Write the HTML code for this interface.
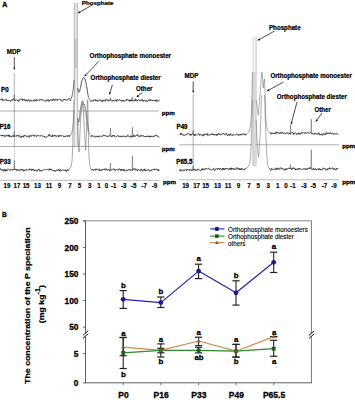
<!DOCTYPE html>
<html><head><meta charset="utf-8"><style>
html,body{margin:0;padding:0;background:#fff;}
svg{display:block;}
svg text{font-family:"Liberation Sans",sans-serif;}
</style></head><body>
<svg width="355" height="400" viewBox="0 0 355 400">
<defs><clipPath id="cl"><rect x="0" y="0" width="170" height="200"/></clipPath></defs>
<rect width="355" height="400" fill="#fff"/>
<text x="2.3" y="7.0" font-size="7.0" font-weight="bold" text-anchor="start" fill="#000" stroke="#000" stroke-width="0.3" >A</text>
<line x1="0" y1="111.0" x2="158.8" y2="111.0" stroke="#9a9a9a" stroke-width="0.8" />
<line x1="0" y1="146.5" x2="159.5" y2="146.5" stroke="#9a9a9a" stroke-width="0.8" />
<line x1="0" y1="180.3" x2="159.7" y2="180.3" stroke="#aaa" stroke-width="0.8" />
<line x1="179.3" y1="144.8" x2="338.8" y2="144.8" stroke="#9a9a9a" stroke-width="0.8" />
<line x1="179.3" y1="179.8" x2="339" y2="179.8" stroke="#aaa" stroke-width="0.8" />
<text transform="translate(7.0,187.9) scale(1,1.08)" font-size="6.2" font-weight="bold" text-anchor="middle" fill="#000" stroke="#000" stroke-width="0.15" >19</text>
<text transform="translate(185.6,187.9) scale(1,1.08)" font-size="6.2" font-weight="bold" text-anchor="middle" fill="#000" stroke="#000" stroke-width="0.15" >19</text>
<text transform="translate(17.0,187.9) scale(1,1.08)" font-size="6.2" font-weight="bold" text-anchor="middle" fill="#000" stroke="#000" stroke-width="0.15" >17</text>
<text transform="translate(196.6,187.9) scale(1,1.08)" font-size="6.2" font-weight="bold" text-anchor="middle" fill="#000" stroke="#000" stroke-width="0.15" >17</text>
<text transform="translate(26.1,187.9) scale(1,1.08)" font-size="6.2" font-weight="bold" text-anchor="middle" fill="#000" stroke="#000" stroke-width="0.15" >15</text>
<text transform="translate(205.6,187.9) scale(1,1.08)" font-size="6.2" font-weight="bold" text-anchor="middle" fill="#000" stroke="#000" stroke-width="0.15" >15</text>
<text transform="translate(37.5,187.9) scale(1,1.08)" font-size="6.2" font-weight="bold" text-anchor="middle" fill="#000" stroke="#000" stroke-width="0.15" >13</text>
<text transform="translate(217.4,187.9) scale(1,1.08)" font-size="6.2" font-weight="bold" text-anchor="middle" fill="#000" stroke="#000" stroke-width="0.15" >13</text>
<text transform="translate(48.9,187.9) scale(1,1.08)" font-size="6.2" font-weight="bold" text-anchor="middle" fill="#000" stroke="#000" stroke-width="0.15" >11</text>
<text transform="translate(228.1,187.9) scale(1,1.08)" font-size="6.2" font-weight="bold" text-anchor="middle" fill="#000" stroke="#000" stroke-width="0.15" >11</text>
<text transform="translate(59.6,187.9) scale(1,1.08)" font-size="6.2" font-weight="bold" text-anchor="middle" fill="#000" stroke="#000" stroke-width="0.15" >9</text>
<text transform="translate(238.6,187.9) scale(1,1.08)" font-size="6.2" font-weight="bold" text-anchor="middle" fill="#000" stroke="#000" stroke-width="0.15" >9</text>
<text transform="translate(69.9,187.9) scale(1,1.08)" font-size="6.2" font-weight="bold" text-anchor="middle" fill="#000" stroke="#000" stroke-width="0.15" >7</text>
<text transform="translate(249.0,187.9) scale(1,1.08)" font-size="6.2" font-weight="bold" text-anchor="middle" fill="#000" stroke="#000" stroke-width="0.15" >7</text>
<text transform="translate(79.4,187.9) scale(1,1.08)" font-size="6.2" font-weight="bold" text-anchor="middle" fill="#000" stroke="#000" stroke-width="0.15" >5</text>
<text transform="translate(258.2,187.9) scale(1,1.08)" font-size="6.2" font-weight="bold" text-anchor="middle" fill="#000" stroke="#000" stroke-width="0.15" >5</text>
<text transform="translate(89.7,187.9) scale(1,1.08)" font-size="6.2" font-weight="bold" text-anchor="middle" fill="#000" stroke="#000" stroke-width="0.15" >3</text>
<text transform="translate(268.3,187.9) scale(1,1.08)" font-size="6.2" font-weight="bold" text-anchor="middle" fill="#000" stroke="#000" stroke-width="0.15" >3</text>
<text transform="translate(99.0,187.9) scale(1,1.08)" font-size="6.2" font-weight="bold" text-anchor="middle" fill="#000" stroke="#000" stroke-width="0.15" >1</text>
<text transform="translate(277.8,187.9) scale(1,1.08)" font-size="6.2" font-weight="bold" text-anchor="middle" fill="#000" stroke="#000" stroke-width="0.15" >1</text>
<text transform="translate(106.6,187.9) scale(1,1.08)" font-size="6.2" font-weight="bold" text-anchor="middle" fill="#000" stroke="#000" stroke-width="0.15" >0</text>
<text transform="translate(285.9,187.9) scale(1,1.08)" font-size="6.2" font-weight="bold" text-anchor="middle" fill="#000" stroke="#000" stroke-width="0.15" >0</text>
<text transform="translate(113.8,187.9) scale(1,1.08)" font-size="6.2" font-weight="bold" text-anchor="middle" fill="#000" stroke="#000" stroke-width="0.15" >-1</text>
<text transform="translate(293.0,187.9) scale(1,1.08)" font-size="6.2" font-weight="bold" text-anchor="middle" fill="#000" stroke="#000" stroke-width="0.15" >-1</text>
<text transform="translate(123.7,187.9) scale(1,1.08)" font-size="6.2" font-weight="bold" text-anchor="middle" fill="#000" stroke="#000" stroke-width="0.15" >-3</text>
<text transform="translate(304.0,187.9) scale(1,1.08)" font-size="6.2" font-weight="bold" text-anchor="middle" fill="#000" stroke="#000" stroke-width="0.15" >-3</text>
<text transform="translate(133.8,187.9) scale(1,1.08)" font-size="6.2" font-weight="bold" text-anchor="middle" fill="#000" stroke="#000" stroke-width="0.15" >-5</text>
<text transform="translate(313.3,187.9) scale(1,1.08)" font-size="6.2" font-weight="bold" text-anchor="middle" fill="#000" stroke="#000" stroke-width="0.15" >-5</text>
<text transform="translate(144.3,187.9) scale(1,1.08)" font-size="6.2" font-weight="bold" text-anchor="middle" fill="#000" stroke="#000" stroke-width="0.15" >-7</text>
<text transform="translate(324.4,187.9) scale(1,1.08)" font-size="6.2" font-weight="bold" text-anchor="middle" fill="#000" stroke="#000" stroke-width="0.15" >-7</text>
<text transform="translate(154.4,187.9) scale(1,1.08)" font-size="6.2" font-weight="bold" text-anchor="middle" fill="#000" stroke="#000" stroke-width="0.15" >-9</text>
<text transform="translate(333.9,187.9) scale(1,1.08)" font-size="6.2" font-weight="bold" text-anchor="middle" fill="#000" stroke="#000" stroke-width="0.15" >-9</text>
<text x="161.8" y="114.8" font-size="6.2" font-weight="bold" text-anchor="start" fill="#000" stroke="#000" stroke-width="0.3" >ppm</text>
<text x="161.8" y="150.8" font-size="6.2" font-weight="bold" text-anchor="start" fill="#000" stroke="#000" stroke-width="0.3" >ppm</text>
<text x="163" y="184.2" font-size="6.2" font-weight="bold" text-anchor="start" fill="#000" stroke="#000" stroke-width="0.3" >ppm</text>
<text x="342.3" y="147.6" font-size="6.2" font-weight="bold" text-anchor="start" fill="#000" stroke="#000" stroke-width="0.3" >ppm</text>
<text x="342.3" y="184.2" font-size="6.2" font-weight="bold" text-anchor="start" fill="#000" stroke="#000" stroke-width="0.3" >ppm</text>
<line x1="14.3" y1="73" x2="14.3" y2="147" stroke="#7a7a7a" stroke-width="0.6" />
<line x1="14.3" y1="147" x2="14.3" y2="170" stroke="#aaa" stroke-width="0.5" />
<line x1="193.2" y1="94" x2="193.2" y2="169" stroke="#7a7a7a" stroke-width="0.6" />
<g clip-path="url(#cl)">
<rect x="74.2" y="3" width="3.2" height="36" fill="#e4e4e4"/>
<rect x="74.2" y="39" width="3.2" height="29" fill="#cdcdcd"/>
<rect x="74.2" y="68" width="3.2" height="78" fill="#f2f2f2"/>
<line x1="74.25" y1="3" x2="74.25" y2="147" stroke="#8c8c8c" stroke-width="0.55" />
<line x1="77.4" y1="3" x2="77.4" y2="147" stroke="#8c8c8c" stroke-width="0.55" />
<line x1="74.9" y1="68" x2="74.9" y2="100" stroke="#9a9a9a" stroke-width="0.45" />
<polyline points="78.45,118.67 78.76,122.62 79.26,121.78 80.34,114.40 81.79,107.78 82.95,104.36 83.93,103.69 84.78,107.11 84.80,106.24 85.76,110.79 86.96,114.98 87.26,119.62 88.61,128.34 89.40,130.63" fill="none" stroke="#8a8a8a" stroke-width="0.5" stroke-linejoin="round" />
<polyline points="77.19,120.80 77.94,125.91 78.25,124.78 79.66,116.26 80.22,109.84 81.80,106.24 82.15,104.06 82.95,108.90 83.72,107.66 84.61,112.56 85.59,114.93 86.84,122.12 87.47,129.92 88.50,132.54" fill="none" stroke="#9a9a9a" stroke-width="0.5" stroke-linejoin="round" />
<polyline points="77.79,88.16 78.60,93.20 79.52,91.89 79.87,91.76 81.23,86.24 82.08,80.68 83.55,78.74 84.57,78.57 84.99,79.39 86.10,84.45 87.36,88.90 87.86,94.67" fill="none" stroke="#9a9a9a" stroke-width="0.5" stroke-linejoin="round" />
<polyline points="0.00,99.55 0.32,99.64 0.64,100.14 0.96,99.87 1.28,99.37 1.60,98.58 1.92,99.97 2.24,98.83 2.56,100.42 2.88,99.79 3.20,99.85 3.52,100.55 3.84,99.72 4.16,100.62 4.48,99.95 4.80,99.90 5.12,99.51 5.44,99.28 5.76,99.99 6.08,100.09 6.40,99.68 6.72,100.73 7.04,100.21 7.36,100.78 7.68,100.13 8.00,100.34 8.32,101.09 8.64,100.17 8.96,99.98 9.28,100.29 9.60,100.32 9.92,100.89 10.24,100.64 10.56,101.68 10.88,101.01 11.20,100.46 11.52,101.14 11.84,100.34 12.16,100.72 12.48,99.82 12.80,99.02 13.12,99.77 13.44,98.80 13.76,99.98 14.08,99.10 13.90,98.58" fill="none" stroke="#383838" stroke-width="0.8" stroke-linejoin="round" />
<polyline points="14.70,99.48 14.40,100.16 14.72,100.69 15.04,99.78 15.36,100.49 15.68,99.94 16.00,99.66 16.32,99.83 16.64,99.70 16.96,99.46 17.28,99.75 17.60,100.63 17.92,100.53 18.24,99.81 18.56,101.35 18.88,101.62 19.20,100.63 19.52,100.43 19.84,99.07 20.16,99.05 20.48,98.90 20.80,98.70 21.12,98.89 21.44,99.52 21.76,98.87 22.08,99.16 22.40,98.90 22.72,100.90 23.04,100.10 23.36,99.08 23.68,99.33 24.00,99.69 24.32,100.45 24.64,99.35 24.96,99.32 25.28,100.93 25.60,100.92 25.92,100.04 26.24,100.34 26.56,100.50 26.88,99.49 27.20,101.15 27.52,101.23 27.84,101.35 28.16,100.51 28.48,99.52 28.80,99.41 29.12,99.95 29.44,100.25 29.76,101.58 30.08,100.95 30.40,100.18 30.72,99.72 31.04,101.00 31.36,100.68 31.68,101.25 32.00,100.44 32.32,101.12 32.64,100.80 32.96,100.80 33.28,100.62 33.60,100.54 33.92,101.20 34.24,100.15 34.56,99.60 34.88,101.14 35.20,100.68 35.52,100.98 35.84,100.52 36.16,99.22 36.48,100.84 36.80,101.24 37.12,101.00 37.44,100.27 37.76,100.01 38.08,100.18 38.40,99.72 38.72,100.23 39.04,99.55 39.36,100.54 39.68,100.59 40.00,100.08 40.32,99.36 40.64,99.61 40.96,100.10 41.28,99.41 41.60,100.03 41.92,99.88 42.24,100.49 42.56,99.77 42.88,99.22 43.20,100.09 43.52,100.62 43.84,100.60 44.16,100.71 44.48,100.91 44.80,100.52 45.12,101.10 45.44,101.19 45.76,100.61 46.08,101.57 46.40,100.50 46.72,100.35 47.04,99.52 47.36,99.84 47.68,100.72 48.00,100.11 48.32,99.52 48.64,101.32 48.96,100.91 49.28,100.09 49.60,101.23 49.92,100.11 50.24,100.00 50.56,99.64 50.88,99.51 51.20,100.25 51.52,99.53 51.84,100.10 52.16,100.44 52.48,100.91 52.80,99.39 53.12,99.85 53.44,98.81 53.76,100.23 54.08,99.74 54.40,100.46 54.72,100.33 55.04,98.93 55.36,99.91 55.68,100.34 56.00,100.45 56.32,100.17 56.64,99.90 56.96,99.29 57.28,100.50 57.60,99.10 57.92,99.48 58.24,99.04 58.56,98.81 58.88,99.05 59.20,99.57 59.52,99.50 59.84,99.16 60.16,98.98 60.48,100.25 60.80,99.82 61.12,99.83 61.44,100.66 61.76,101.17 62.08,100.43 62.40,101.37 62.72,100.87 63.04,100.77 63.36,100.13 63.68,99.27 64.00,99.90 64.32,98.93 64.64,99.79 64.96,100.22 65.28,99.39 65.60,99.65 65.92,99.42 66.24,100.20 66.56,100.29 66.88,100.71 67.20,99.62 67.52,99.24 67.84,99.65 68.16,99.50 68.48,98.80 68.80,98.88 69.12,98.12 69.44,98.64 69.76,99.55 70.08,100.26 70.40,100.93" fill="none" stroke="#383838" stroke-width="0.8" stroke-linejoin="round" />
<polyline points="70.40,100.93 70.90,99.30 71.80,97.00 72.60,93.50 73.30,89.00 74.10,80.00" fill="none" stroke="#454545" stroke-width="0.75" stroke-linejoin="round" />
<polyline points="77.60,88.00 78.30,91.30 79.00,92.00 79.80,90.00 80.80,85.50 81.80,80.50 83.00,78.00 84.00,77.30 85.00,78.80 86.00,82.50 87.00,89.00 87.80,94.00 88.60,97.30 89.60,99.30 90.20,100.00" fill="none" stroke="#454545" stroke-width="0.75" stroke-linejoin="round" />
<polyline points="90.20,100.00 90.52,100.28 90.84,101.20 91.16,100.84 91.48,100.97 91.80,101.42 92.12,100.42 92.44,100.92 92.76,101.25 93.08,101.36 93.40,101.15 93.72,99.67 94.04,99.79 94.36,100.22 94.68,100.15 95.00,100.50 95.32,99.46 95.64,101.02 95.96,100.62 96.28,100.00 96.60,100.47 96.92,99.90 97.24,100.09 97.56,101.54 97.88,100.48 98.20,100.86 98.52,101.00 98.84,100.18 99.16,99.95 99.48,100.31 99.80,99.86 100.12,99.72 100.44,100.67 100.76,100.23 101.08,100.48 101.40,99.85 101.72,100.40 102.04,101.97 102.36,100.43 102.68,101.57 103.00,100.28 103.32,100.97 103.64,100.11 103.96,99.74 104.28,99.81 104.60,100.76 104.92,101.40 105.24,101.23 105.56,99.76 105.88,99.93 106.20,99.70 106.52,99.48 106.84,100.26 107.16,99.76 107.48,99.42 107.80,100.94 108.12,100.65 108.44,100.51 108.76,101.29 109.08,100.67 109.40,99.71 109.72,100.52 110.04,100.56 110.36,99.36 110.68,99.44 110.40,99.34" fill="none" stroke="#383838" stroke-width="0.8" stroke-linejoin="round" />
<polyline points="111.20,100.24 111.00,100.66 111.32,100.98 111.64,101.26 111.96,101.11 112.28,100.37 112.60,101.08 112.92,101.45 113.24,100.04 113.56,100.53 113.88,100.64 114.20,100.91 114.52,100.64 114.84,100.70 115.16,100.74 115.48,99.86 115.80,100.73 116.12,99.72 116.44,101.47 116.76,99.97 117.08,99.51 117.40,99.40 117.72,99.48 118.04,100.71 118.36,100.31 118.68,100.38 119.00,99.97 119.32,99.44 119.64,99.88 119.96,100.67 120.28,100.39 120.60,100.06 120.92,100.25 121.24,101.41 121.56,100.37 121.88,100.75 122.20,100.80 122.52,100.02 122.84,101.26 123.16,101.46 123.48,100.87 123.80,100.04 124.12,100.86 124.44,101.36 124.76,101.42 125.08,100.87 125.40,100.62 125.72,100.61 126.04,99.91 126.36,99.47 126.68,100.48 127.00,99.12 127.32,100.13 127.64,99.55 127.96,99.43 128.28,99.99 128.60,100.88 128.92,100.96 129.24,100.14 129.56,101.34 129.88,99.86 130.20,100.84 130.52,100.04 130.84,101.28 131.16,99.50 131.48,99.98 131.80,99.91 132.12,101.10 131.80,100.12" fill="none" stroke="#383838" stroke-width="0.8" stroke-linejoin="round" />
<polyline points="132.60,101.02 132.44,100.17 132.76,100.79 133.08,100.82 133.40,101.12 133.72,101.12 134.04,99.89 134.36,99.96 134.68,101.08 135.00,99.81 135.32,100.54 135.64,98.84 135.96,99.14 136.28,100.67 136.60,101.20 136.92,100.61 137.24,101.10 137.56,99.92 137.88,100.58 138.20,100.26 138.52,99.34 138.84,99.73 139.16,99.99 139.48,100.58 139.80,101.22 140.12,100.87 140.44,100.28 140.76,100.87 141.08,99.70 141.40,99.74 141.72,100.87 142.04,99.93 142.36,99.38 142.68,100.24 143.00,101.48 143.32,100.18 143.64,101.19 143.96,100.92 144.28,99.96 144.60,100.21 144.92,100.64 145.24,100.14 145.56,100.43 145.88,101.68 146.20,100.28 146.52,100.51 146.84,100.45 147.16,101.52 147.48,101.72 147.80,100.88 148.12,100.52 148.44,100.28 148.76,100.87 149.08,99.48 149.40,99.81 149.72,100.49 150.04,101.11 150.36,99.43 150.68,99.73 151.00,100.07 151.32,99.80 151.64,100.47 151.96,101.08 152.28,100.06 152.60,100.64 152.92,100.68 153.24,100.53 153.56,100.15 153.88,100.75 154.20,100.02 154.52,101.00 154.84,99.84 155.16,100.89 155.48,100.48 155.80,101.40 156.12,101.79 156.44,100.09 156.76,99.50 157.08,100.76 157.40,100.83 157.72,101.18 158.04,101.20 158.36,100.52 158.68,101.24 159.00,100.34 159.32,99.64" fill="none" stroke="#383838" stroke-width="0.8" stroke-linejoin="round" />
<polyline points="0.00,135.89 0.32,135.50 0.64,135.17 0.96,135.29 1.28,135.18 1.60,136.15 1.92,134.94 2.24,135.66 2.56,135.20 2.88,135.84 3.20,135.22 3.52,136.20 3.84,135.53 4.16,135.30 4.48,136.79 4.80,135.37 5.12,135.67 5.44,136.21 5.76,136.12 6.08,136.24 6.40,135.15 6.72,135.33 7.04,136.28 7.36,135.48 7.68,135.36 8.00,134.80 8.32,136.10 8.64,135.14 8.96,136.48 9.28,134.89 9.60,136.89 9.92,135.37 10.24,136.36 10.56,137.03 10.88,136.43 11.20,136.58 11.52,137.20 11.84,136.33 12.16,136.14 12.48,136.06 12.80,135.37 13.12,136.73 13.44,135.68 13.76,135.25 14.08,135.77 13.90,135.78" fill="none" stroke="#383838" stroke-width="0.8" stroke-linejoin="round" />
<polyline points="14.70,136.68 14.40,136.47 14.72,136.13 15.04,136.37 15.36,136.36 15.68,135.93 16.00,135.70 16.32,135.23 16.64,136.50 16.96,135.49 17.28,135.36 17.60,135.49 17.92,135.19 18.24,134.77 18.56,135.14 18.88,136.58 19.20,135.42 19.52,135.92 19.84,136.01 20.16,137.63 20.48,137.38 20.80,137.08 21.12,136.97 21.44,136.11 21.76,137.49 22.08,135.88 22.40,135.84 22.72,136.37 23.04,136.33 23.36,137.34 23.68,135.80 24.00,135.87 24.32,135.12 24.64,136.08 24.96,136.40 25.28,135.95 25.60,135.28 25.92,135.40 26.24,136.25 26.56,136.84 26.88,136.54 27.20,135.82 27.52,135.97 27.84,136.93 28.16,136.88 28.48,135.77 28.80,135.78 29.12,136.34 29.44,137.48 29.76,136.89 30.08,135.48 30.40,135.15 30.72,135.84 31.04,136.63 31.36,135.19 31.68,135.16 32.00,135.19 32.32,134.95 32.64,135.27 32.96,135.03 33.28,135.77 33.60,136.19 33.92,134.82 34.24,135.36 34.56,136.27 34.88,135.41 35.20,135.57 35.52,135.39 35.84,135.83 36.16,136.83 36.48,136.73 36.80,135.64 37.12,135.21 37.44,135.73 37.76,135.06 38.08,135.21 38.40,135.72 38.72,135.94 39.04,135.65 39.36,135.63 39.68,136.12 40.00,136.33 40.32,136.03 40.64,135.88 40.96,136.18 41.28,135.28 41.60,134.94 41.92,136.02 42.24,136.53 42.56,135.88 42.88,136.18 43.20,136.59 43.52,136.41 43.84,136.23 44.16,136.17 44.48,136.03 44.80,137.35 45.12,136.49 45.44,136.73 45.76,137.13 46.08,136.84 46.40,137.37 46.72,136.98 47.04,137.15 47.36,136.74 47.68,136.09 48.00,136.20 48.32,136.24 48.64,134.59 48.96,135.83 49.28,134.68 49.60,134.25 49.92,135.74 50.24,136.30 50.56,135.65 50.88,136.05 51.20,136.69 51.52,136.20 51.84,136.93 52.16,135.30 52.48,134.71 52.80,136.53 53.12,136.74 53.44,136.01 53.76,135.21 54.08,135.75 54.40,135.89 54.72,135.14 55.04,135.81 55.36,135.23 55.68,136.22 56.00,136.78 56.32,135.81 56.64,136.38 56.96,136.17 57.28,135.52 57.60,135.78 57.92,136.18 58.24,135.54 58.56,137.11 58.88,135.74 59.20,136.34 59.52,135.60 59.84,136.13 60.16,136.21 60.48,135.00 60.80,135.87 61.12,135.75 61.44,135.72 61.76,136.19 62.08,135.77 62.40,135.78 62.72,135.78 63.04,136.04 63.36,135.93 63.68,136.72 64.00,137.05 64.32,136.01 64.64,136.55 64.96,136.67 65.28,135.93 65.60,136.37 65.92,136.49 66.24,135.67 66.56,136.32 66.88,135.72 67.20,135.91 67.52,135.63 67.84,136.80 68.16,135.31 68.48,135.40 68.80,135.31 69.12,135.26 69.44,136.78 69.76,136.66 70.08,135.38" fill="none" stroke="#383838" stroke-width="0.8" stroke-linejoin="round" />
<polyline points="70.08,135.38 71.00,135.00 72.00,132.00 72.80,128.00 73.50,121.00 74.10,110.00" fill="none" stroke="#707070" stroke-width="0.6" stroke-linejoin="round" />
<polyline points="77.60,118.00 78.40,122.00 79.10,120.50 80.00,112.00 81.00,105.00 82.00,101.50 83.00,101.00 83.80,105.00 84.50,104.00 85.30,109.00 86.20,113.00 87.00,119.00 87.80,126.00 88.60,131.00 89.50,134.00 90.30,135.60 90.80,137.20" fill="none" stroke="#707070" stroke-width="0.6" stroke-linejoin="round" />
<polyline points="90.80,137.20 91.12,136.74 91.44,136.55 91.76,135.39 92.08,135.09 92.40,136.29 92.72,136.14 93.04,136.24 93.36,136.05 93.68,136.25 94.00,136.30 94.32,136.83 94.64,135.85 94.96,137.11 95.28,137.04 95.60,137.25 95.92,136.83 96.24,136.71 96.56,135.85 96.88,136.69 97.20,136.05 97.52,136.22 97.84,136.26 98.16,137.23 98.48,136.34 98.80,136.25 99.12,137.11 99.44,135.87 99.76,135.99 100.08,136.24 100.40,135.89 100.72,136.28 101.04,136.25 101.36,136.47 101.68,136.99 102.00,136.23 102.32,136.31 102.64,136.34 102.96,134.87 103.28,135.35 103.60,135.03 103.92,135.68 104.24,135.06 104.56,135.73 104.88,136.11 105.20,136.28 105.52,135.33 105.84,135.94 106.16,136.25 106.48,136.15 106.80,136.53 107.12,135.96 107.44,136.73 107.76,135.85 108.08,135.64 108.40,136.36 108.72,136.50 109.04,136.15 109.36,135.87 109.68,136.13 110.00,135.24 110.32,135.56 110.10,134.99" fill="none" stroke="#383838" stroke-width="0.8" stroke-linejoin="round" />
<polyline points="110.90,135.89 110.64,135.90 110.96,135.78 111.28,137.10 111.60,136.47 111.92,136.92 112.24,136.53 112.56,135.42 112.88,136.39 113.20,135.58 113.52,135.03 113.84,135.92 114.16,134.96 114.48,136.62 114.80,136.42 115.12,136.48 115.44,136.89 115.76,137.10 116.08,136.44 116.40,136.57 116.72,136.73 117.04,135.83 117.36,135.33 117.68,135.28 118.00,135.44 118.32,136.05 118.64,136.72 118.96,136.16 119.28,135.84 119.60,136.60 119.92,135.83 120.24,135.85 120.56,136.81 120.88,136.14 121.20,136.92 121.52,136.81 121.84,136.07 122.16,135.81 122.48,136.90 122.80,136.96 123.12,136.14 123.44,136.65 123.76,135.79 124.08,135.98 124.40,136.01 124.72,136.51 125.04,136.17 125.36,137.21 125.68,137.02 126.00,135.97 126.32,136.16 126.64,136.68 126.96,136.07 127.28,136.34 127.60,135.44 127.92,134.84 128.24,136.22 128.56,136.72 128.88,136.87 129.20,136.89 129.52,136.92 129.84,136.35 130.16,136.75 130.48,136.30 130.80,135.64 131.12,137.29 131.44,136.47 131.76,137.36 132.08,136.39 132.40,136.27 132.00,135.80" fill="none" stroke="#383838" stroke-width="0.8" stroke-linejoin="round" />
<polyline points="132.80,136.70 132.72,136.03 133.04,137.01 133.36,135.90 133.68,134.79 134.00,136.09 134.32,136.41 134.64,135.69 134.96,136.77 135.28,136.59 135.60,135.78 135.92,136.05 136.24,135.27 136.56,135.84 136.88,136.06 137.20,135.70 137.52,134.23 137.84,135.17 138.16,135.51 138.48,136.01 138.80,136.55 139.12,135.63 139.44,136.74 139.76,137.00 140.08,136.75 140.40,135.52 140.72,135.98 141.04,135.54 141.36,136.37 141.68,136.27 142.00,135.11 142.32,135.90 142.64,136.11 142.96,136.02 143.28,135.81 143.60,135.76 143.92,136.31 144.24,136.90 144.56,136.11 144.88,136.65 145.20,136.73 145.52,136.19 145.84,137.12 146.16,136.29 146.48,137.03 146.80,136.51 147.12,136.95 147.44,136.28 147.76,135.58 148.08,136.08 148.40,136.98 148.72,136.35 149.04,136.85 149.36,135.96 149.68,137.17 150.00,137.41 150.32,135.76 150.64,136.90 150.96,136.43 151.28,136.13 151.60,136.86 151.92,135.96 152.24,136.50 152.56,136.38 152.88,136.41 153.20,135.87 153.52,136.99 153.84,136.77 154.16,136.70 154.48,135.63 154.80,136.11 155.12,135.86 155.44,135.80 155.76,134.78 156.08,136.05 156.40,136.01 156.72,135.68 157.04,136.08 157.36,135.55 157.68,136.55 158.00,136.27 158.32,135.96 158.64,136.49 158.96,137.41 159.28,137.86" fill="none" stroke="#383838" stroke-width="0.8" stroke-linejoin="round" />
<polyline points="0.00,168.99 0.32,168.97 0.64,168.45 0.96,170.05 1.28,170.28 1.60,169.44 1.92,170.04 2.24,170.47 2.56,169.64 2.88,170.55 3.20,169.89 3.52,169.44 3.84,171.29 4.16,169.32 4.48,169.53 4.80,170.93 5.12,169.85 5.44,171.06 5.76,171.46 6.08,169.44 6.40,170.99 6.72,170.08 7.04,170.80 7.36,169.56 7.68,169.02 8.00,169.18 8.32,168.93 8.64,169.06 8.96,169.63 9.28,170.26 9.60,170.08 9.92,170.58 10.24,169.49 10.56,169.94 10.88,170.04 11.20,169.57 11.52,170.20 11.84,169.74 12.16,169.21 12.48,170.26 12.80,170.33 13.12,169.41 13.44,168.93 13.76,169.60 14.08,169.53 13.90,168.94" fill="none" stroke="#383838" stroke-width="0.8" stroke-linejoin="round" />
<polyline points="14.70,169.84 14.40,170.11 14.72,169.96 15.04,169.56 15.36,168.95 15.68,169.21 16.00,168.94 16.32,170.21 16.64,170.82 16.96,169.32 17.28,169.48 17.60,170.05 17.92,170.03 18.24,170.66 18.56,169.47 18.88,170.60 19.20,169.95 19.52,170.04 19.84,169.85 20.16,170.39 20.48,169.72 20.80,169.02 21.12,169.88 21.44,169.20 21.76,170.22 22.08,170.40 22.40,169.17 22.72,170.01 23.04,169.64 23.36,170.33 23.68,171.39 24.00,169.80 24.32,170.83 24.64,170.66 24.96,170.93 25.28,169.60 25.60,170.11 25.92,169.46 26.24,169.55 26.56,169.59 26.88,170.39 27.20,170.00 27.52,170.03 27.84,169.84 28.16,169.95 28.48,170.03 28.80,169.26 29.12,170.09 29.44,169.40 29.76,170.26 30.08,168.66 30.40,169.23 30.72,169.43 31.04,169.59 31.36,169.27 31.68,170.68 32.00,169.14 32.32,169.81 32.64,169.01 32.96,169.04 33.28,170.41 33.60,169.61 33.92,169.37 34.24,170.99 34.56,169.96 34.88,170.48 35.20,170.90 35.52,170.19 35.84,169.77 36.16,170.73 36.48,170.96 36.80,171.12 37.12,169.94 37.44,171.14 37.76,169.92 38.08,169.96 38.40,169.47 38.72,170.05 39.04,168.93 39.36,170.60 39.68,170.81 40.00,171.38 40.32,170.23 40.64,170.48 40.96,170.45 41.28,171.31 41.60,170.19 41.92,170.34 42.24,170.48 42.56,170.61 42.88,170.00 43.20,170.42 43.52,169.98 43.84,169.50 44.16,169.04 44.48,169.36 44.80,169.00 45.12,169.20 45.44,169.92 45.76,170.13 46.08,169.93 46.40,169.74 46.72,169.83 47.04,169.29 47.36,169.50 47.68,169.64 48.00,168.87 48.32,169.33 48.64,169.87 48.96,170.46 49.28,169.98 49.60,168.60 49.92,169.81 50.24,169.27 50.56,169.91 50.88,168.80 51.20,170.34 51.52,169.33 51.84,169.82 52.16,170.36 52.48,170.24 52.80,170.80 53.12,170.54 53.44,171.07 53.76,170.39 54.08,170.32 54.40,171.23 54.72,171.53 55.04,170.51 55.36,171.37 55.68,170.48 56.00,170.37 56.32,170.23 56.64,170.37 56.96,169.79 57.28,170.93 57.60,170.18 57.92,169.53 58.24,169.62 58.56,169.07 58.88,169.98 59.20,171.11 59.52,170.44 59.84,171.23 60.16,169.15 60.48,169.98 60.80,170.89 61.12,171.16 61.44,170.31 61.76,170.23 62.08,170.29 62.40,170.65 62.72,170.19 63.04,169.46 63.36,169.75 63.68,170.44 64.00,170.37 64.32,170.41 64.64,170.45 64.96,171.04 65.28,169.73 65.60,171.07 65.92,169.78 66.24,171.03 66.56,171.66 66.88,170.93 67.20,170.05 67.52,170.30 67.84,169.36 68.16,170.21 68.48,170.66 68.80,169.33" fill="none" stroke="#383838" stroke-width="0.8" stroke-linejoin="round" />
<polyline points="68.80,169.33 69.50,169.00 70.50,168.00 71.30,166.00 71.90,162.00 72.30,156.00 72.70,146.00 73.10,130.00 73.50,115.00 74.00,100.00" fill="none" stroke="#707070" stroke-width="0.6" stroke-linejoin="round" />
<polyline points="77.60,118.00 78.30,138.00 79.00,152.00 79.70,140.00 80.50,120.00 81.50,106.00 82.50,101.00 83.30,110.00 84.20,126.00 85.00,141.00 85.60,150.00 86.20,139.00 86.80,118.00 87.30,104.00 87.70,100.00 88.00,112.00 88.30,128.00 88.60,146.00 89.00,157.00 89.60,164.00 90.30,167.50 91.00,169.30 91.50,170.36" fill="none" stroke="#707070" stroke-width="0.6" stroke-linejoin="round" />
<polyline points="91.50,170.36 91.82,170.02 92.14,168.94 92.46,169.97 92.78,169.58 93.10,170.13 93.42,170.01 93.74,170.67 94.06,169.85 94.38,169.03 94.70,169.35 95.02,169.02 95.34,170.22 95.66,170.40 95.98,168.67 96.30,169.62 96.62,169.93 96.94,169.38 97.26,170.03 97.58,169.41 97.90,169.51 98.22,169.91 98.54,170.31 98.86,169.82 99.18,168.73 99.50,170.65 99.82,170.49 100.14,169.93 100.46,171.02 100.78,170.92 101.10,169.69 101.42,169.70 101.74,170.49 102.06,170.37 102.38,169.13 102.70,169.09 103.02,169.89 103.34,169.61 103.66,170.02 103.98,169.34 104.30,170.14 104.62,169.15 104.94,169.00 105.26,168.49 105.58,169.38 105.90,169.69 106.22,168.72 106.54,169.12 106.86,170.27 107.18,169.60 107.50,170.30 107.82,170.55 108.14,170.27 108.46,169.25 108.78,169.13 109.10,169.64 109.42,170.60 109.74,169.78 110.06,169.79 110.38,169.99 110.00,169.99" fill="none" stroke="#383838" stroke-width="0.8" stroke-linejoin="round" />
<polyline points="110.80,170.89 110.70,170.51 111.02,170.50 111.34,170.17 111.66,169.71 111.98,169.23 112.30,170.13 112.62,169.75 112.94,169.30 113.26,169.27 113.58,168.56 113.90,168.82 114.22,169.40 114.54,168.92 114.86,170.23 115.18,170.85 115.50,169.43 115.82,169.62 116.14,169.46 116.46,169.94 116.78,169.59 117.10,170.14 117.42,169.90 117.74,170.53 118.06,170.51 118.38,168.88 118.70,168.87 119.02,169.13 119.34,168.70 119.66,168.92 119.98,170.08 120.30,169.82 120.62,170.38 120.94,169.09 121.26,170.73 121.58,169.24 121.90,170.54 122.22,169.36 122.54,169.87 122.86,169.92 123.18,169.07 123.50,169.85 123.82,170.82 124.14,169.31 124.46,170.35 124.78,171.12 125.10,171.37 125.42,170.67 125.74,170.37 126.06,169.98 126.38,169.84 126.70,169.87 127.02,171.15 127.34,170.29 127.66,170.89 127.98,170.13 128.30,169.67 128.62,169.35 128.94,169.09 129.26,170.26 129.58,169.29 129.90,169.72 130.22,170.10 130.54,170.64 130.86,169.72 131.18,170.05 131.50,170.14 131.82,169.70 132.14,169.64 132.46,170.61 132.10,169.48" fill="none" stroke="#383838" stroke-width="0.8" stroke-linejoin="round" />
<polyline points="132.90,170.38 132.78,169.30 133.10,169.11 133.42,168.87 133.74,169.42 134.06,168.68 134.38,169.25 134.70,168.81 135.02,168.28 135.34,170.26 135.66,169.79 135.98,170.23 136.30,169.64 136.62,169.19 136.94,169.03 137.26,170.56 137.58,171.08 137.90,170.04 138.22,169.46 138.54,169.95 138.86,169.69 139.18,169.89 139.50,170.82 139.82,170.19 140.14,170.56 140.46,169.43 140.78,170.02 141.10,170.16 141.42,170.44 141.74,168.92 142.06,170.03 142.38,170.55 142.70,171.32 143.02,170.43 143.34,169.61 143.66,169.37 143.98,169.70 144.30,170.86 144.62,168.89 144.94,169.17 145.26,169.21 145.58,170.95 145.90,170.47 146.22,170.44 146.54,170.02 146.86,169.83 147.18,170.65 147.50,170.00 147.82,170.07 148.14,169.94 148.46,169.14 148.78,169.60 149.10,170.93 149.42,171.36 149.74,171.13 150.06,170.32 150.38,171.10 150.70,170.56 151.02,170.79 151.34,170.43 151.66,170.98 151.98,169.25 152.30,169.93 152.62,169.81 152.94,169.67 153.26,169.62 153.58,169.60 153.90,168.90 154.22,170.08 154.54,170.15 154.86,168.77 155.18,169.22 155.50,169.80 155.82,169.61 156.14,169.23 156.46,168.86 156.78,168.88 157.10,170.20 157.42,170.12 157.74,169.51 158.06,170.98 158.38,170.54 158.70,169.37 159.02,170.53 159.34,170.03" fill="none" stroke="#383838" stroke-width="0.8" stroke-linejoin="round" />
<polyline points="13.90,98.58 14.30,94.68 14.70,99.48" fill="none" stroke="#555" stroke-width="0.5" stroke-linejoin="round" />
<polyline points="110.40,99.34 110.80,97.74 111.20,100.24" fill="none" stroke="#555" stroke-width="0.5" stroke-linejoin="round" />
<polyline points="131.80,100.12 132.20,96.92 132.60,101.02" fill="none" stroke="#555" stroke-width="0.5" stroke-linejoin="round" />
<polyline points="13.90,135.78 14.30,131.38 14.70,136.68" fill="none" stroke="#555" stroke-width="0.5" stroke-linejoin="round" />
<polyline points="110.10,134.99 110.50,128.09 110.90,135.89" fill="none" stroke="#555" stroke-width="0.5" stroke-linejoin="round" />
<polyline points="132.00,135.80 132.40,127.40 132.80,136.70" fill="none" stroke="#555" stroke-width="0.5" stroke-linejoin="round" />
<polyline points="13.90,168.94 14.30,160.54 14.70,169.84" fill="none" stroke="#555" stroke-width="0.5" stroke-linejoin="round" />
<polyline points="110.00,169.99 110.40,163.09 110.80,170.89" fill="none" stroke="#555" stroke-width="0.5" stroke-linejoin="round" />
<polyline points="132.10,169.48 132.50,156.08 132.90,170.38" fill="none" stroke="#555" stroke-width="0.5" stroke-linejoin="round" />
</g>
<rect x="253.1" y="37" width="3.1" height="35" fill="#f6f6f6"/>
<rect x="252.2" y="72" width="3.4" height="94" fill="#dcdcdc"/>
<line x1="253.1" y1="37" x2="253.1" y2="166" stroke="#b8b8b8" stroke-width="0.5" />
<line x1="256.1" y1="37" x2="256.1" y2="166" stroke="#9a9a9a" stroke-width="0.55" />
<polyline points="179.50,134.69 179.82,134.22 180.14,134.08 180.46,133.18 180.78,134.86 181.10,133.16 181.42,133.80 181.74,134.04 182.06,134.04 182.38,134.88 182.70,134.07 183.02,135.26 183.34,135.61 183.66,135.37 183.98,134.50 184.30,135.70 184.62,135.74 184.94,135.41 185.26,135.16 185.58,134.90 185.90,134.90 186.22,134.18 186.54,135.07 186.86,134.14 187.18,133.72 187.50,133.52 187.82,134.29 188.14,133.81 188.46,133.86 188.78,133.23 189.10,133.59 189.42,134.43 189.74,134.64 190.06,135.41 190.38,134.11 190.70,135.49 191.02,134.96 191.34,135.05 191.66,134.00 191.98,134.27 192.30,133.59 192.62,133.68 192.94,133.98 192.80,133.83" fill="none" stroke="#383838" stroke-width="0.8" stroke-linejoin="round" />
<polyline points="193.60,134.73 193.26,133.89 193.58,135.13 193.90,134.24 194.22,135.69 194.54,134.29 194.86,135.80 195.18,134.28 195.50,134.50 195.82,135.12 196.14,134.82 196.46,135.30 196.78,134.83 197.10,134.81 197.42,134.31 197.74,134.20 198.06,133.97 198.38,133.87 198.70,133.54 199.02,134.97 199.34,134.62 199.66,135.61 199.98,134.23 200.30,133.85 200.62,134.11 200.94,134.94 201.26,135.12 201.58,135.18 201.90,134.68 202.22,134.73 202.54,135.63 202.86,135.03 203.18,136.20 203.50,134.79 203.82,135.73 204.14,133.71 204.46,134.75 204.78,134.61 205.10,134.87 205.42,134.73 205.74,134.06 206.06,134.15 206.38,133.83 206.70,134.68 207.02,133.91 207.34,135.41 207.66,133.57 207.98,134.30 208.30,135.21 208.62,134.94 208.94,135.29 209.26,135.59 209.58,134.79 209.90,134.23 210.22,134.64 210.54,133.83 210.86,134.54 211.18,134.77 211.50,133.87 211.82,134.00 212.14,133.47 212.46,134.64 212.78,135.04 213.10,134.14 213.42,134.39 213.74,134.07 214.06,135.28 214.38,134.21 214.70,135.12 215.02,134.45 215.34,134.31 215.66,135.15 215.98,134.85 216.30,134.63 216.62,134.19 216.94,135.86 217.26,133.96 217.58,135.02 217.90,134.47 218.22,134.03 218.54,132.94 218.86,133.33 219.18,134.65 219.50,135.01 219.82,134.23 220.14,135.05 220.46,134.06 220.78,134.32 221.10,134.00 221.42,134.88 221.74,134.64 222.06,133.75 222.38,133.49 222.70,133.83 223.02,133.82 223.34,133.15 223.66,133.83 223.98,134.27 224.30,134.97 224.62,135.12 224.94,133.94 225.26,133.55 225.58,133.85 225.90,134.04 226.22,133.20 226.54,134.61 226.86,134.55 227.18,135.49 227.50,135.45 227.82,134.56 228.14,135.45 228.46,134.36 228.78,133.89 229.10,134.25 229.42,135.72 229.74,134.82 230.06,134.08 230.38,133.58 230.70,135.14 231.02,134.39 231.34,134.90 231.66,135.26 231.98,135.57 232.30,134.60 232.62,134.72 232.94,135.57 233.26,134.64 233.58,134.56 233.90,134.77 234.22,135.05 234.54,134.71 234.86,135.09 235.18,134.78 235.50,135.00 235.82,134.74 236.14,134.43 236.46,133.63 236.78,134.83 237.10,134.80 237.42,134.64 237.74,135.08 238.06,134.76 238.38,135.54 238.70,134.50 239.02,135.45 239.34,134.58 239.66,134.24 239.98,133.96 240.30,134.67 240.62,133.92 240.94,135.26 241.26,134.64 241.58,135.14 241.90,134.37 242.22,134.82 242.54,134.52 242.86,134.44 243.18,133.77 243.50,134.34 243.82,133.33 244.14,133.94 244.46,133.78 244.78,134.02 245.10,135.38 245.42,134.29 245.74,134.98 246.06,133.87 246.38,134.32" fill="none" stroke="#383838" stroke-width="0.8" stroke-linejoin="round" />
<polyline points="246.38,134.32 247.30,133.50 248.30,132.50 249.20,131.00 250.00,128.50 250.80,123.00 251.40,112.00 252.00,92.00 252.50,72.00" fill="none" stroke="#6a6a6a" stroke-width="0.55" stroke-linejoin="round" />
<polyline points="256.20,100.00 257.20,108.00 258.30,115.00 259.20,105.00 260.50,88.00 261.50,75.00 262.00,72.00 262.60,80.00 263.20,88.00 263.80,82.00 264.50,79.00 265.00,90.00 265.40,105.00 265.80,118.00 266.50,126.00 267.50,130.00 268.50,131.50 269.50,132.91" fill="none" stroke="#6a6a6a" stroke-width="0.55" stroke-linejoin="round" />
<polyline points="269.50,132.91 269.82,133.31 270.14,133.16 270.46,133.29 270.78,133.10 271.10,134.29 271.42,133.82 271.74,132.53 272.06,133.26 272.38,133.36 272.70,134.12 273.02,133.15 273.34,132.91 273.66,133.23 273.98,133.88 274.30,133.12 274.62,133.64 274.94,133.68 275.26,132.39 275.58,133.39 275.90,133.97 276.22,132.54 276.54,133.06 276.86,131.60 277.18,132.87 277.50,132.66 277.82,132.78 278.14,132.70 278.46,132.64 278.78,133.72 279.10,133.03 279.42,133.31 279.74,133.47 280.06,132.18 280.38,132.12 280.70,133.16 281.02,132.97 281.34,132.30 281.66,133.65 281.98,133.16 282.30,132.39 282.62,132.95 282.94,133.09 283.26,133.00 283.58,133.05 283.90,133.97 284.22,132.89 284.54,133.07 284.86,132.99 285.18,133.47 285.50,133.15 285.82,133.39 286.14,133.87 286.46,133.72 286.78,132.54 287.10,132.23 287.42,132.73 287.74,132.95 288.06,133.95 288.38,133.99 288.70,134.25 289.02,133.06 289.34,133.24 289.66,133.63 289.98,132.77 290.30,134.39 290.10,133.07" fill="none" stroke="#383838" stroke-width="0.8" stroke-linejoin="round" />
<polyline points="290.90,133.97 290.62,133.70 290.94,133.77 291.26,132.80 291.58,133.14 291.90,132.98 292.22,132.01 292.54,132.46 292.86,132.40 293.18,133.21 293.50,133.24 293.82,134.74 294.14,132.91 294.46,133.64 294.78,133.14 295.10,132.62 295.42,132.98 295.74,132.72 296.06,133.08 296.38,134.83 296.70,134.35 297.02,133.55 297.34,133.92 297.66,133.57 297.98,134.53 298.30,133.93 298.62,132.68 298.94,133.65 299.26,133.04 299.58,133.15 299.90,134.59 300.22,134.23 300.54,132.92 300.86,133.29 301.18,133.46 301.50,133.25 301.82,132.03 302.14,132.31 302.46,133.58 302.78,133.23 303.10,132.81 303.42,132.74 303.74,132.46 304.06,132.26 304.38,132.35 304.70,133.36 305.02,133.22 305.34,133.24 305.66,132.27 305.98,132.85 306.30,133.49 306.62,132.95 306.94,132.79 307.26,132.71 307.58,132.57 307.90,131.99 308.22,133.12 308.54,133.40 308.86,133.12 309.18,133.14 309.50,133.26 309.82,133.19 310.14,132.21 310.46,132.13 310.78,132.30 311.10,132.62 310.90,132.69" fill="none" stroke="#383838" stroke-width="0.8" stroke-linejoin="round" />
<polyline points="311.70,133.59 311.42,132.99 311.74,133.98 312.06,133.03 312.38,133.53 312.70,133.19 313.02,134.22 313.34,133.88 313.66,134.22 313.98,133.73 314.30,134.56 314.62,133.59 314.94,134.12 315.26,133.31 315.58,133.01 315.90,132.77 316.22,133.87 316.54,134.22 316.86,133.65 317.18,134.57 317.50,134.29 317.82,133.78 318.14,134.39 318.46,133.71 318.78,132.70 319.10,134.10 319.42,133.42 319.74,134.93 320.06,134.87 320.38,135.05 320.70,134.27 321.02,134.95 321.34,134.31 321.66,134.88 321.98,134.34 322.30,135.53 322.62,134.91 322.94,133.36 323.26,133.29 323.58,134.31 323.90,134.17 324.22,134.09 324.54,134.23 324.86,134.84 325.18,133.34 325.50,134.59 325.82,133.89 326.14,134.53 326.46,133.36 326.78,132.28 327.10,133.31 327.42,133.53 327.74,132.96 328.06,133.85 328.38,133.18 328.70,132.72 329.02,133.36 329.34,134.16 329.66,133.53 329.98,133.36 330.30,132.34 330.62,133.25 330.94,133.83 331.26,134.08 331.58,133.38 331.90,133.96 332.22,133.90 332.54,134.01 332.86,133.53 333.18,134.49 333.50,134.19 333.82,133.17 334.14,133.12 334.46,133.63 334.78,134.17 335.10,134.24 335.42,133.62 335.74,134.16 336.06,133.60 336.38,133.38 336.70,133.92 337.02,134.09 337.34,134.59 337.66,133.84 337.98,133.71 338.30,133.98" fill="none" stroke="#383838" stroke-width="0.8" stroke-linejoin="round" />
<polyline points="179.50,170.80 179.82,169.83 180.14,169.63 180.46,171.27 180.78,170.20 181.10,169.39 181.42,170.34 181.74,169.75 182.06,170.01 182.38,170.15 182.70,170.94 183.02,171.10 183.34,171.17 183.66,170.82 183.98,169.55 184.30,170.64 184.62,170.13 184.94,169.86 185.26,169.72 185.58,169.89 185.90,169.34 186.22,169.58 186.54,171.04 186.86,169.52 187.18,169.83 187.50,169.88 187.82,169.12 188.14,169.29 188.46,169.70 188.78,170.33 189.10,170.19 189.42,170.29 189.74,169.06 190.06,169.90 190.38,170.23 190.70,169.82 191.02,170.58 191.34,169.56 191.66,169.61 191.98,169.49 192.30,170.55 192.62,170.78 192.94,169.31 192.80,169.11" fill="none" stroke="#383838" stroke-width="0.8" stroke-linejoin="round" />
<polyline points="193.60,170.01 193.26,169.32 193.58,169.94 193.90,170.06 194.22,168.86 194.54,170.22 194.86,169.99 195.18,169.81 195.50,170.76 195.82,169.83 196.14,170.00 196.46,170.32 196.78,169.77 197.10,170.54 197.42,169.16 197.74,168.86 198.06,169.73 198.38,169.60 198.70,169.52 199.02,169.76 199.34,170.17 199.66,169.51 199.98,169.61 200.30,170.67 200.62,170.68 200.94,170.77 201.26,169.91 201.58,169.98 201.90,168.78 202.22,170.12 202.54,168.87 202.86,168.43 203.18,170.15 203.50,169.53 203.82,169.22 204.14,169.88 204.46,169.63 204.78,168.68 205.10,168.59 205.42,169.45 205.74,169.12 206.06,167.96 206.38,168.58 206.70,168.93 207.02,169.15 207.34,169.11 207.66,169.21 207.98,169.15 208.30,168.39 208.62,167.89 208.94,169.31 209.26,169.01 209.58,169.38 209.90,169.57 210.22,170.12 210.54,169.79 210.86,169.72 211.18,169.50 211.50,170.12 211.82,169.85 212.14,169.08 212.46,169.05 212.78,169.42 213.10,169.04 213.42,169.18 213.74,168.27 214.06,169.21 214.38,169.92 214.70,170.62 215.02,170.35 215.34,168.84 215.66,169.35 215.98,169.35 216.30,168.68 216.62,168.85 216.94,169.03 217.26,168.29 217.58,169.40 217.90,169.16 218.22,168.16 218.54,168.96 218.86,169.46 219.18,169.75 219.50,169.74 219.82,168.18 220.14,168.99 220.46,168.31 220.78,168.96 221.10,169.49 221.42,169.31 221.74,169.40 222.06,170.35 222.38,168.43 222.70,169.01 223.02,168.02 223.34,169.71 223.66,168.44 223.98,169.63 224.30,168.69 224.62,169.75 224.94,169.33 225.26,168.36 225.58,169.11 225.90,168.94 226.22,167.97 226.54,168.71 226.86,169.18 227.18,168.14 227.50,168.42 227.82,168.91 228.14,169.59 228.46,169.13 228.78,169.09 229.10,169.35 229.42,168.19 229.74,169.40 230.06,168.25 230.38,169.41 230.70,169.45 231.02,167.87 231.34,169.65 231.66,167.87 231.98,169.09 232.30,168.52 232.62,169.13 232.94,168.99 233.26,168.09 233.58,168.52 233.90,169.94 234.22,169.55 234.54,168.66 234.86,168.73 235.18,169.53 235.50,168.88 235.82,169.05 236.14,168.82 236.46,169.27 236.78,167.63 237.10,168.19 237.42,167.71 237.74,168.09 238.06,169.71 238.38,168.44 238.70,168.68 239.02,168.34 239.34,169.51 239.66,168.44 239.98,169.82 240.30,168.87 240.62,168.83 240.94,168.76 241.26,170.05 241.58,168.64 241.90,168.15 242.22,169.13 242.54,168.85 242.86,168.94 243.18,169.58 243.50,169.58 243.82,169.99 244.14,168.72 244.46,170.01 244.78,169.76 245.10,169.38 245.42,168.94 245.74,168.03" fill="none" stroke="#383838" stroke-width="0.8" stroke-linejoin="round" />
<polyline points="245.74,168.03 247.00,168.00 248.00,167.00 249.00,165.00 250.00,162.00 250.60,156.00 251.10,146.00 251.60,132.00 252.20,110.00 252.60,100.00" fill="none" stroke="#6a6a6a" stroke-width="0.55" stroke-linejoin="round" />
<polyline points="256.20,120.00 257.00,140.00 257.80,152.00 258.50,157.00 259.20,150.00 260.00,138.00 260.80,120.00 261.30,100.00 261.60,95.00" fill="none" stroke="#6a6a6a" stroke-width="0.55" stroke-linejoin="round" />
<polyline points="264.40,95.00 264.80,100.00 265.30,120.00 265.80,135.00 266.40,146.00 266.80,156.00 267.40,163.00 268.10,167.00 269.00,168.50 269.50,168.55" fill="none" stroke="#6a6a6a" stroke-width="0.55" stroke-linejoin="round" />
<polyline points="269.50,168.55 269.82,168.34 270.14,169.37 270.46,169.98 270.78,170.57 271.10,169.48 271.42,169.19 271.74,168.28 272.06,169.89 272.38,169.40 272.70,169.91 273.02,169.58 273.34,169.47 273.66,168.97 273.98,168.75 274.30,168.75 274.62,169.49 274.94,169.92 275.26,169.72 275.58,170.01 275.90,168.28 276.22,169.23 276.54,167.78 276.86,169.43 277.18,168.29 277.50,169.08 277.82,169.52 278.14,168.42 278.46,168.65 278.78,167.83 279.10,169.18 279.42,169.32 279.74,169.48 280.06,168.21 280.38,167.69 280.70,167.90 281.02,168.19 281.34,169.25 281.66,169.15 281.98,167.81 282.30,168.25 282.62,168.69 282.94,168.45 283.26,169.30 283.58,169.02 283.90,169.49 284.22,170.55 284.54,169.61 284.86,168.67 285.18,169.03 285.50,169.74 285.82,169.11 286.14,168.42 286.46,169.40 286.78,169.71 287.10,168.44 287.42,169.14 287.74,169.04 288.06,168.71 288.38,168.61 288.70,167.91 289.02,167.79 289.34,168.78 289.66,168.09 289.98,168.34 290.30,168.07 290.10,167.92" fill="none" stroke="#383838" stroke-width="0.8" stroke-linejoin="round" />
<polyline points="290.90,168.82 290.62,168.32 290.94,168.79 291.26,168.58 291.58,169.95 291.90,168.26 292.22,168.34 292.54,169.28 292.86,167.91 293.18,168.13 293.50,168.37 293.82,167.52 294.14,168.24 294.46,169.07 294.78,168.09 295.10,169.05 295.42,170.12 295.74,169.06 296.06,170.04 296.38,168.92 296.70,169.28 297.02,168.71 297.34,169.48 297.66,168.98 297.98,169.15 298.30,169.27 298.62,168.26 298.94,169.43 299.26,168.21 299.58,169.21 299.90,168.58 300.22,169.07 300.54,168.73 300.86,169.18 301.18,169.07 301.50,169.60 301.82,169.35 302.14,169.36 302.46,169.50 302.78,169.04 303.10,168.47 303.42,168.53 303.74,169.16 304.06,169.64 304.38,169.15 304.70,169.11 305.02,168.25 305.34,169.24 305.66,169.45 305.98,168.46 306.30,168.85 306.62,169.74 306.94,170.04 307.26,168.89 307.58,169.15 307.90,168.21 308.22,168.75 308.54,168.09 308.86,167.90 309.18,168.69 309.50,167.74 309.82,168.74 310.14,167.34 310.46,168.40 310.78,168.21 311.10,168.14 310.90,168.08" fill="none" stroke="#383838" stroke-width="0.8" stroke-linejoin="round" />
<polyline points="311.70,168.98 311.42,168.81 311.74,169.46 312.06,169.66 312.38,169.22 312.70,169.79 313.02,169.87 313.34,167.97 313.66,168.27 313.98,169.85 314.30,169.17 314.62,169.99 314.94,169.57 315.26,168.59 315.58,169.34 315.90,170.14 316.22,169.41 316.54,169.84 316.86,168.74 317.18,169.03 317.50,168.83 317.82,169.37 318.14,169.00 318.46,168.84 318.78,169.62 319.10,168.55 319.42,169.26 319.74,168.63 320.06,170.09 320.38,169.08 320.70,169.20 321.02,170.15 321.34,169.34 321.66,169.62 321.98,170.24 322.30,168.76 322.62,168.49 322.94,167.84 323.26,168.38 323.58,168.35 323.90,169.08 324.22,169.17 324.54,168.33 324.86,168.13 325.18,168.61 325.50,169.74 325.82,169.86 326.14,169.64 326.46,170.31 326.78,169.53 327.10,168.50 327.42,169.47 327.74,170.24 328.06,169.11 328.38,168.98 328.70,168.86 329.02,167.93 329.34,168.79 329.66,167.68 329.98,168.47 330.30,168.18 330.62,169.27 330.94,168.68 331.26,169.07 331.58,168.73 331.90,168.52 332.22,167.82 332.54,167.64 332.86,168.98 333.18,169.00 333.50,168.70 333.82,168.49 334.14,169.60 334.46,168.35 334.78,169.00 335.10,168.97 335.42,170.14 335.74,169.20 336.06,169.08 336.38,169.65 336.70,168.23 337.02,169.23 337.34,168.24 337.66,168.31 337.98,168.73 338.30,168.75" fill="none" stroke="#383838" stroke-width="0.8" stroke-linejoin="round" />
<polyline points="192.80,133.83 193.20,130.43 193.60,134.73" fill="none" stroke="#555" stroke-width="0.5" stroke-linejoin="round" />
<polyline points="290.10,133.07 290.50,124.67 290.90,133.97" fill="none" stroke="#555" stroke-width="0.5" stroke-linejoin="round" />
<polyline points="310.90,132.69 311.30,119.29 311.70,133.59" fill="none" stroke="#555" stroke-width="0.5" stroke-linejoin="round" />
<polyline points="192.80,169.11 193.20,165.71 193.60,170.01" fill="none" stroke="#555" stroke-width="0.5" stroke-linejoin="round" />
<polyline points="290.10,167.92 290.50,164.52 290.90,168.82" fill="none" stroke="#555" stroke-width="0.5" stroke-linejoin="round" />
<polyline points="310.90,168.08 311.30,149.68 311.70,168.98" fill="none" stroke="#555" stroke-width="0.5" stroke-linejoin="round" />
<text transform="translate(6.8,53.8) scale(1,1.1)" font-size="6.2" font-weight="bold" text-anchor="start" fill="#000" stroke="#000" stroke-width="0.2" >MDP</text>
<line x1="14.3" y1="57" x2="14.3" y2="67.4" stroke="#000" stroke-width="0.7" />
<polygon points="14.30,70.00 13.20,67.40 15.40,67.40" fill="#000"/>
<text x="81.8" y="4.5" font-size="6.2" font-weight="bold" text-anchor="start" fill="#000" stroke="#000" stroke-width="0.22" >Phosphate</text>
<line x1="92.4" y1="4.9" x2="79.9574321695236" y2="12.010038760272232" stroke="#000" stroke-width="0.7" />
<polygon points="77.70,13.30 79.41,11.05 80.50,12.97" fill="#000"/>
<text transform="translate(89.6,58.2) scale(1,1.1)" font-size="6.2" font-weight="bold" text-anchor="start" fill="#000" stroke="#000" stroke-width="0.2" >Orthophosphate monoester</text>
<line x1="98.7" y1="61.5" x2="86.00084126231108" y2="74.72464116821398" stroke="#000" stroke-width="0.7" />
<polygon points="84.20,76.60 85.21,73.96 86.79,75.49" fill="#000"/>
<text transform="translate(90.6,79.8) scale(1,1.1)" font-size="6.2" font-weight="bold" text-anchor="start" fill="#000" stroke="#000" stroke-width="0.2" >Orthophosphate diester</text>
<line x1="112.4" y1="84.9" x2="110.07694190829226" y2="92.31879842190538" stroke="#000" stroke-width="0.7" />
<polygon points="109.30,94.80 109.03,91.99 111.13,92.65" fill="#000"/>
<text transform="translate(136,90.6) scale(1,1.1)" font-size="6.2" font-weight="bold" text-anchor="start" fill="#000" stroke="#000" stroke-width="0.2" >Other</text>
<line x1="142.3" y1="92.4" x2="138.4168503646177" y2="95.55917258471783" stroke="#000" stroke-width="0.7" />
<polygon points="136.40,97.20 137.72,94.71 139.11,96.41" fill="#000"/>
<text transform="translate(1.1,92.4) scale(1,1.08)" font-size="6.2" font-weight="bold" text-anchor="start" fill="#000" stroke="#000" stroke-width="0.25" >P0</text>
<text transform="translate(-0.6,128.6) scale(1,1.08)" font-size="6.2" font-weight="bold" text-anchor="start" fill="#000" stroke="#000" stroke-width="0.25" >P16</text>
<text transform="translate(-0.3,163.6) scale(1,1.08)" font-size="6.2" font-weight="bold" text-anchor="start" fill="#000" stroke="#000" stroke-width="0.25" >P33</text>
<text transform="translate(184.6,78) scale(1,1.1)" font-size="6.2" font-weight="bold" text-anchor="start" fill="#000" stroke="#000" stroke-width="0.2" >MDP</text>
<line x1="193.2" y1="81.5" x2="193.2" y2="90.4" stroke="#000" stroke-width="0.7" />
<polygon points="193.20,93.00 192.10,90.40 194.30,90.40" fill="#000"/>
<text transform="translate(269,30.1) scale(1,1.1)" font-size="6.2" font-weight="bold" text-anchor="start" fill="#000" stroke="#000" stroke-width="0.2" >Phosphate</text>
<line x1="274.6" y1="31" x2="259.6703140252387" y2="39.33284798591325" stroke="#000" stroke-width="0.7" />
<polygon points="257.40,40.60 259.13,38.37 260.21,40.29" fill="#000"/>
<text transform="translate(270.4,77.6) scale(1,1.1)" font-size="6.2" font-weight="bold" text-anchor="start" fill="#000" stroke="#000" stroke-width="0.2" >Orthophosphate monoester</text>
<line x1="283.6" y1="82" x2="268.97787672766884" y2="90.04649387175621" stroke="#000" stroke-width="0.7" />
<polygon points="266.70,91.30 268.45,89.08 269.51,91.01" fill="#000"/>
<text transform="translate(276.8,99.2) scale(1,1.1)" font-size="6.2" font-weight="bold" text-anchor="start" fill="#000" stroke="#000" stroke-width="0.2" >Orthophosphate diester</text>
<line x1="297" y1="102" x2="291.66992289145685" y2="121.98778915703676" stroke="#000" stroke-width="0.7" />
<polygon points="291.00,124.50 290.61,121.70 292.73,122.27" fill="#000"/>
<text transform="translate(314.4,111.5) scale(1,1.1)" font-size="6.2" font-weight="bold" text-anchor="start" fill="#000" stroke="#000" stroke-width="0.2" >Other</text>
<line x1="322" y1="113" x2="317.0222754399953" y2="119.89223400616031" stroke="#000" stroke-width="0.7" />
<polygon points="315.50,122.00 316.13,119.25 317.91,120.54" fill="#000"/>
<text transform="translate(176.5,128.6) scale(1,1.08)" font-size="6.2" font-weight="bold" text-anchor="start" fill="#000" stroke="#000" stroke-width="0.25" >P49</text>
<text transform="translate(176.3,163.8) scale(1,1.08)" font-size="6.2" font-weight="bold" text-anchor="start" fill="#000" stroke="#000" stroke-width="0.25" >P65.5</text>
<text x="2" y="217" font-size="6.6" font-weight="bold" text-anchor="start" fill="#000" stroke="#000" stroke-width="0.3" >B</text>
<text transform="translate(30.2,305.7) scale(1,1.1) rotate(-90)" font-size="8.0" font-weight="bold" text-anchor="middle" stroke="#000" stroke-width="0.22">The concentration of the P speciation</text>
<text transform="translate(43.7,304.2) scale(1,1.1) rotate(-90)" font-size="8.0" font-weight="bold" text-anchor="middle" stroke="#000" stroke-width="0.22">(mg kg<tspan dy="-3.9" font-size="6.6">-1</tspan><tspan dy="3.9">)</tspan></text>
<line x1="83.2" y1="220.8" x2="311.4" y2="220.8" stroke="#8a8a8a" stroke-width="1.0" />
<line x1="311.4" y1="220.8" x2="311.4" y2="383.2" stroke="#6a6a6a" stroke-width="0.9" />
<line x1="85.5" y1="220.5" x2="85.5" y2="383.3" stroke="#5e5e5e" stroke-width="1.0" />
<line x1="85.5" y1="382.8" x2="311.8" y2="382.8" stroke="#5e5e5e" stroke-width="1.0" />
<line x1="82.9" y1="221.01000000000002" x2="85.5" y2="221.01000000000002" stroke="#444" stroke-width="0.8" />
<text x="78.4" y="224.11" font-size="8.3" font-weight="bold" text-anchor="end" fill="#000" stroke="#000" stroke-width="0.3" >250</text>
<line x1="82.9" y1="247.54000000000002" x2="85.5" y2="247.54000000000002" stroke="#444" stroke-width="0.8" />
<text x="78.4" y="250.64" font-size="8.3" font-weight="bold" text-anchor="end" fill="#000" stroke="#000" stroke-width="0.3" >200</text>
<line x1="82.9" y1="274.07000000000005" x2="85.5" y2="274.07000000000005" stroke="#444" stroke-width="0.8" />
<text x="78.4" y="277.17" font-size="8.3" font-weight="bold" text-anchor="end" fill="#000" stroke="#000" stroke-width="0.3" >150</text>
<line x1="82.9" y1="300.6" x2="85.5" y2="300.6" stroke="#444" stroke-width="0.8" />
<text x="78.4" y="303.7" font-size="8.3" font-weight="bold" text-anchor="end" fill="#000" stroke="#000" stroke-width="0.3" >100</text>
<line x1="82.9" y1="327.13" x2="85.5" y2="327.13" stroke="#444" stroke-width="0.8" />
<text x="78.4" y="330.23" font-size="8.3" font-weight="bold" text-anchor="end" fill="#000" stroke="#000" stroke-width="0.3" >50</text>
<line x1="82.9" y1="353.59999999999997" x2="85.5" y2="353.59999999999997" stroke="#444" stroke-width="0.8" />
<text x="78.4" y="356.7" font-size="8.3" font-weight="bold" text-anchor="end" fill="#000" stroke="#000" stroke-width="0.3" >5</text>
<line x1="82.9" y1="382.9" x2="85.5" y2="382.9" stroke="#444" stroke-width="0.8" />
<text x="78.4" y="386.0" font-size="8.3" font-weight="bold" text-anchor="end" fill="#000" stroke="#000" stroke-width="0.3" >0</text>
<polygon points="82.9,335.3 88.3,330.7 88.3,333.7 82.9,338.3" fill="#fff"/>
<line x1="82.9" y1="335.3" x2="88.3" y2="330.7" stroke="#111" stroke-width="1.0" />
<line x1="82.9" y1="338.3" x2="88.3" y2="333.7" stroke="#111" stroke-width="1.0" />
<polygon points="308.79999999999995,335.5 314.2,330.9 314.2,333.9 308.79999999999995,338.5" fill="#fff"/>
<line x1="308.79999999999995" y1="335.5" x2="314.2" y2="330.9" stroke="#111" stroke-width="1.0" />
<line x1="308.79999999999995" y1="338.5" x2="314.2" y2="333.9" stroke="#111" stroke-width="1.0" />
<line x1="123.2" y1="382.9" x2="123.2" y2="385.2" stroke="#555" stroke-width="0.8" />
<text x="123.5" y="397.9" font-size="8.5" font-weight="bold" text-anchor="middle" fill="#000" stroke="#000" stroke-width="0.3" >P0</text>
<line x1="160.8" y1="382.9" x2="160.8" y2="385.2" stroke="#555" stroke-width="0.8" />
<text x="161.10000000000002" y="397.9" font-size="8.5" font-weight="bold" text-anchor="middle" fill="#000" stroke="#000" stroke-width="0.3" >P16</text>
<line x1="198.6" y1="382.9" x2="198.6" y2="385.2" stroke="#555" stroke-width="0.8" />
<text x="198.9" y="397.9" font-size="8.5" font-weight="bold" text-anchor="middle" fill="#000" stroke="#000" stroke-width="0.3" >P33</text>
<line x1="236.0" y1="382.9" x2="236.0" y2="385.2" stroke="#555" stroke-width="0.8" />
<text x="236.3" y="397.9" font-size="8.5" font-weight="bold" text-anchor="middle" fill="#000" stroke="#000" stroke-width="0.3" >P49</text>
<line x1="273.7" y1="382.9" x2="273.7" y2="385.2" stroke="#555" stroke-width="0.8" />
<text x="274.0" y="397.9" font-size="8.5" font-weight="bold" text-anchor="middle" fill="#000" stroke="#000" stroke-width="0.3" >P65.5</text>
<line x1="123.2" y1="290.6" x2="123.2" y2="308.4" stroke="#222" stroke-width="1.1" />
<line x1="119.60000000000001" y1="290.6" x2="126.8" y2="290.6" stroke="#222" stroke-width="1.2" />
<line x1="119.60000000000001" y1="308.4" x2="126.8" y2="308.4" stroke="#222" stroke-width="1.2" />
<line x1="160.8" y1="297" x2="160.8" y2="307.5" stroke="#222" stroke-width="1.1" />
<line x1="157.20000000000002" y1="297" x2="164.4" y2="297" stroke="#222" stroke-width="1.2" />
<line x1="157.20000000000002" y1="307.5" x2="164.4" y2="307.5" stroke="#222" stroke-width="1.2" />
<line x1="198.6" y1="264.2" x2="198.6" y2="278.6" stroke="#222" stroke-width="1.1" />
<line x1="195.0" y1="264.2" x2="202.2" y2="264.2" stroke="#222" stroke-width="1.2" />
<line x1="195.0" y1="278.6" x2="202.2" y2="278.6" stroke="#222" stroke-width="1.2" />
<line x1="236.0" y1="280.8" x2="236.0" y2="305.1" stroke="#222" stroke-width="1.1" />
<line x1="232.4" y1="280.8" x2="239.6" y2="280.8" stroke="#222" stroke-width="1.2" />
<line x1="232.4" y1="305.1" x2="239.6" y2="305.1" stroke="#222" stroke-width="1.2" />
<line x1="273.7" y1="252.2" x2="273.7" y2="272.5" stroke="#222" stroke-width="1.1" />
<line x1="270.09999999999997" y1="252.2" x2="277.3" y2="252.2" stroke="#222" stroke-width="1.2" />
<line x1="270.09999999999997" y1="272.5" x2="277.3" y2="272.5" stroke="#222" stroke-width="1.2" />
<polyline points="123.20,299.30 160.80,302.60 198.60,271.10 236.00,292.80 273.70,262.30" fill="none" stroke="#2323b0" stroke-width="1.2" stroke-linejoin="round" />
<circle cx="123.2" cy="299.3" r="2.4" fill="#1a1a8c"/>
<circle cx="160.8" cy="302.6" r="2.4" fill="#1a1a8c"/>
<circle cx="198.6" cy="271.1" r="2.4" fill="#1a1a8c"/>
<circle cx="236.0" cy="292.8" r="2.4" fill="#1a1a8c"/>
<circle cx="273.7" cy="262.3" r="2.4" fill="#1a1a8c"/>
<text x="123.4" y="287.6" font-size="7.9" font-weight="bold" text-anchor="middle" fill="#000" stroke="#000" stroke-width="0.3" >b</text>
<text x="161.0" y="294.0" font-size="7.9" font-weight="bold" text-anchor="middle" fill="#000" stroke="#000" stroke-width="0.3" >b</text>
<text x="198.79999999999998" y="261.2" font-size="7.9" font-weight="bold" text-anchor="middle" fill="#000" stroke="#000" stroke-width="0.3" >a</text>
<text x="236.2" y="277.8" font-size="7.9" font-weight="bold" text-anchor="middle" fill="#000" stroke="#000" stroke-width="0.3" >b</text>
<text x="273.9" y="249.2" font-size="7.9" font-weight="bold" text-anchor="middle" fill="#000" stroke="#000" stroke-width="0.3" >a</text>
<line x1="123.2" y1="337.4" x2="123.2" y2="368.5" stroke="#222" stroke-width="1.1" />
<line x1="119.60000000000001" y1="337.4" x2="126.8" y2="337.4" stroke="#222" stroke-width="1.2" />
<line x1="119.60000000000001" y1="368.5" x2="126.8" y2="368.5" stroke="#222" stroke-width="1.2" />
<line x1="160.8" y1="348.3" x2="160.8" y2="352.8" stroke="#222" stroke-width="1.1" />
<line x1="157.20000000000002" y1="348.3" x2="164.4" y2="348.3" stroke="#222" stroke-width="1.2" />
<line x1="157.20000000000002" y1="352.8" x2="164.4" y2="352.8" stroke="#222" stroke-width="1.2" />
<line x1="198.6" y1="347.3" x2="198.6" y2="352.9" stroke="#222" stroke-width="1.1" />
<line x1="195.0" y1="347.3" x2="202.2" y2="347.3" stroke="#222" stroke-width="1.2" />
<line x1="195.0" y1="352.9" x2="202.2" y2="352.9" stroke="#222" stroke-width="1.2" />
<line x1="236.0" y1="344.4" x2="236.0" y2="357.1" stroke="#222" stroke-width="1.1" />
<line x1="232.4" y1="344.4" x2="239.6" y2="344.4" stroke="#222" stroke-width="1.2" />
<line x1="232.4" y1="357.1" x2="239.6" y2="357.1" stroke="#222" stroke-width="1.2" />
<line x1="273.7" y1="340.3" x2="273.7" y2="356.3" stroke="#222" stroke-width="1.1" />
<line x1="270.09999999999997" y1="340.3" x2="277.3" y2="340.3" stroke="#222" stroke-width="1.2" />
<line x1="270.09999999999997" y1="356.3" x2="277.3" y2="356.3" stroke="#222" stroke-width="1.2" />
<line x1="123.2" y1="337.6" x2="123.2" y2="355.7" stroke="#222" stroke-width="1.1" />
<line x1="119.60000000000001" y1="337.6" x2="126.8" y2="337.6" stroke="#222" stroke-width="1.2" />
<line x1="119.60000000000001" y1="355.7" x2="126.8" y2="355.7" stroke="#222" stroke-width="1.2" />
<line x1="160.8" y1="343.9" x2="160.8" y2="357" stroke="#222" stroke-width="1.1" />
<line x1="157.20000000000002" y1="343.9" x2="164.4" y2="343.9" stroke="#222" stroke-width="1.2" />
<line x1="157.20000000000002" y1="357" x2="164.4" y2="357" stroke="#222" stroke-width="1.2" />
<line x1="198.6" y1="337.2" x2="198.6" y2="345.6" stroke="#222" stroke-width="1.1" />
<line x1="195.0" y1="337.2" x2="202.2" y2="337.2" stroke="#222" stroke-width="1.2" />
<line x1="195.0" y1="345.6" x2="202.2" y2="345.6" stroke="#222" stroke-width="1.2" />
<line x1="236.0" y1="344.4" x2="236.0" y2="357.1" stroke="#222" stroke-width="1.1" />
<line x1="232.4" y1="344.4" x2="239.6" y2="344.4" stroke="#222" stroke-width="1.2" />
<line x1="232.4" y1="357.1" x2="239.6" y2="357.1" stroke="#222" stroke-width="1.2" />
<line x1="273.7" y1="336.6" x2="273.7" y2="336.6" stroke="#222" stroke-width="1.1" />
<line x1="270.09999999999997" y1="336.6" x2="277.3" y2="336.6" stroke="#222" stroke-width="1.2" />
<line x1="270.09999999999997" y1="336.6" x2="277.3" y2="336.6" stroke="#222" stroke-width="1.2" />
<polyline points="123.20,347.20 160.80,350.30 198.60,341.00 236.00,351.20 273.70,336.60" fill="none" stroke="#cc8c4c" stroke-width="1.2" stroke-linejoin="round" />
<polyline points="123.20,352.80 160.80,350.30 198.60,350.40 236.00,351.20 273.70,348.70" fill="none" stroke="#2e8a2e" stroke-width="1.2" stroke-linejoin="round" />
<rect x="121.3" y="350.90000000000003" width="3.8" height="3.8" fill="#1e5a1e"/>
<rect x="158.9" y="348.40000000000003" width="3.8" height="3.8" fill="#1e5a1e"/>
<rect x="196.7" y="348.5" width="3.8" height="3.8" fill="#1e5a1e"/>
<rect x="234.1" y="349.3" width="3.8" height="3.8" fill="#1e5a1e"/>
<rect x="271.8" y="346.8" width="3.8" height="3.8" fill="#1e5a1e"/>
<polygon points="123.2,345.0 121.0,348.8 125.4,348.8" fill="#8a6030" opacity="0.8"/>
<polygon points="160.8,348.1 158.60000000000002,351.90000000000003 163.0,351.90000000000003" fill="#8a6030" opacity="0.8"/>
<polygon points="198.6,338.8 196.4,342.6 200.79999999999998,342.6" fill="#8a6030" opacity="0.8"/>
<polygon points="236.0,349.0 233.8,352.8 238.2,352.8" fill="#8a6030" opacity="0.8"/>
<polygon points="273.7,334.40000000000003 271.5,338.20000000000005 275.9,338.20000000000005" fill="#8a6030" opacity="0.8"/>
<text x="123.4" y="335.6" font-size="7.9" font-weight="bold" text-anchor="middle" fill="#000" stroke="#000" stroke-width="0.3" >a</text>
<text x="123.4" y="377.1" font-size="7.9" font-weight="bold" text-anchor="middle" fill="#000" stroke="#000" stroke-width="0.3" >b</text>
<text x="161.0" y="342.3" font-size="7.9" font-weight="bold" text-anchor="middle" fill="#000" stroke="#000" stroke-width="0.3" >a</text>
<text x="161.0" y="364.3" font-size="7.9" font-weight="bold" text-anchor="middle" fill="#000" stroke="#000" stroke-width="0.3" >b</text>
<text x="198.79999999999998" y="334.8" font-size="7.9" font-weight="bold" text-anchor="middle" fill="#000" stroke="#000" stroke-width="0.3" >a</text>
<text x="198.99999999999997" y="360.1" font-size="7.9" font-weight="bold" text-anchor="middle" fill="#000" stroke="#000" stroke-width="0.3" >ab</text>
<text x="236.2" y="342.4" font-size="7.9" font-weight="bold" text-anchor="middle" fill="#000" stroke="#000" stroke-width="0.3" >a</text>
<text x="236.2" y="364.4" font-size="7.9" font-weight="bold" text-anchor="middle" fill="#000" stroke="#000" stroke-width="0.3" >b</text>
<text x="274.2" y="334.9" font-size="7.9" font-weight="bold" text-anchor="middle" fill="#000" stroke="#000" stroke-width="0.3" >a</text>
<text x="274.2" y="364.1" font-size="7.9" font-weight="bold" text-anchor="middle" fill="#000" stroke="#000" stroke-width="0.3" >a</text>
<line x1="210.1" y1="228.9" x2="224.5" y2="228.9" stroke="#2323b0" stroke-width="1.1" />
<circle cx="216.9" cy="228.9" r="2.2" fill="#1a1a8c"/>
<line x1="210.1" y1="236.1" x2="224.5" y2="236.1" stroke="#2e8a2e" stroke-width="1.1" />
<rect x="215.1" y="234.3" width="3.6" height="3.6" fill="#1e5a1e"/>
<line x1="210.1" y1="242.6" x2="224.5" y2="242.6" stroke="#cc8c4c" stroke-width="1.1" />
<polygon points="216.9,240.6 214.9,244 218.9,244" fill="#8a6030"/>
<text x="228" y="231.7" font-size="6.3" font-weight="normal" text-anchor="start" fill="#000" stroke="#000" stroke-width="0.12" >Orthophosphate monoesters</text>
<text x="228" y="238.9" font-size="6.3" font-weight="normal" text-anchor="start" fill="#000" stroke="#000" stroke-width="0.12" >Orthophosphate diester</text>
<text x="228" y="245.9" font-size="6.3" font-weight="normal" text-anchor="start" fill="#000" stroke="#000" stroke-width="0.12" >others</text>
</svg></body></html>
